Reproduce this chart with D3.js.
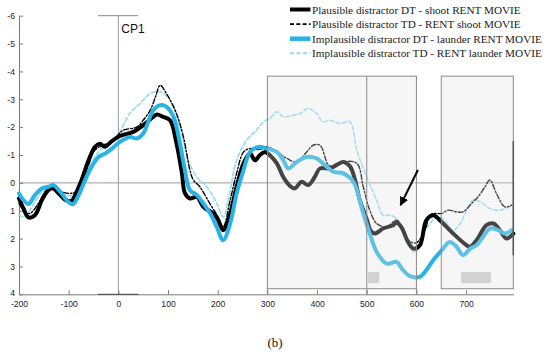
<!DOCTYPE html>
<html><head><meta charset="utf-8">
<script src="https://cdn.jsdelivr.net/npm/d3@7"></script>
<style>body{margin:0;background:#fff}svg{display:block}</style>
</head><body><svg id="c" width="550" height="356"></svg>
<script>
// ---------- data ----------
const xTicks = [-200, -100, 0, 100, 200, 300, 400, 500, 600, 700];
const yTicks = [-6, -5, -4, -3, -2, -1, 0, 1, 2, 3, 4];
const seriesNames = [
  "Plausible distractor DT - shoot RENT MOVIE",
  "Plausible distractor TD - RENT shoot MOVIE",
  "Implausible distractor DT - launder RENT MOVIE",
  "Implausible distractor TD - RENT launder MOVIE"
];
// [time (ms), amplitude (µV)]
const plausibleDT = [[-200,0.56],[-191,0.92],[-181,1.24],[-168,1.16],[-154,0.62],[-141,0.26],[-131,0.2],[-117,0.44],[-104,0.64],[-94,0.64],[-84,0.32],[-74,-0.1],[-60,-0.81],[-47,-1.29],[-37,-1.4],[-27,-1.3],[-13,-1.5],[3,-1.68],[15,-1.75],[30,-1.83],[50,-2.07],[70,-2.37],[78,-2.45],[90,-2.37],[104,-2.25],[117,-1.42],[128,-0.34],[134,0.37],[144,0.56],[158,0.5],[171,0.86],[191,1.1],[200,1.3],[211,1.7],[225,1.1],[238,0.14],[252,-0.7],[265,-1.05],[275,-0.81],[285,-1.0],[295,-1.11],[305,-0.99],[319,-0.7],[332,-0.21],[345,0.1],[355,0.2],[369,-0.04],[382,0.08],[395,-0.2],[406,-0.52],[426,-0.52],[440,-0.65],[453,-0.75],[466,-0.6],[475,-0.2],[486,0.62],[500,1.3],[508,1.72],[516,1.82],[533,1.64],[553,1.52],[560,1.42],[570,1.6],[583,2.12],[594,2.36],[607,2.24],[620,1.34],[634,1.16],[647,1.34],[674,1.82],[701,2.24],[708,2.3],[721,2.06],[741,1.52],[755,1.46],[768,1.7],[781,2.0],[795,1.82]];
const plausibleTD = [[-200,0.74],[-188,1.04],[-178,1.1],[-161,0.74],[-144,0.26],[-131,0.18],[-114,0.32],[-97,0.38],[-84,0.3],[-74,-0.04],[-60,-0.64],[-50,-1.11],[-33,-1.35],[-20,-1.42],[-7,-1.6],[10,-1.89],[37,-2.0],[50,-2.25],[64,-2.6],[75,-3.1],[84,-3.5],[97,-3.2],[117,-2.49],[131,-1.65],[144,-0.46],[151,-0.1],[164,0.14],[184,0.74],[200,1.2],[211,1.58],[225,0.62],[238,-0.34],[252,-1.11],[265,-1.23],[285,-1.2],[299,-1.3],[319,-1.11],[339,-0.88],[359,-0.75],[379,-1.11],[392,-1.35],[406,-1.35],[423,-0.64],[436,-0.57],[453,-0.75],[480,-0.7],[493,0.14],[506,0.98],[520,1.46],[540,1.58],[560,1.34],[573,1.7],[587,2.1],[600,2.15],[617,1.7],[627,1.16],[637,1.1],[651,1.1],[664,0.98],[681,1.04],[694,1.04],[711,0.74],[724,0.5],[738,0.14],[748,-0.1],[761,0.38],[778,0.86],[792,0.8]];
const implausibleDT = [[-200,0.38],[-191,0.62],[-181,0.76],[-168,0.44],[-154,0.2],[-141,0.14],[-131,0.08],[-117,0.32],[-101,0.68],[-91,0.76],[-80,0.44],[-67,-0.1],[-54,-0.57],[-40,-0.93],[-27,-1.05],[-13,-1.23],[3,-1.47],[23,-1.65],[37,-1.59],[50,-1.77],[70,-2.6],[84,-2.79],[97,-2.73],[111,-2.37],[124,-1.41],[134,-0.46],[144,0.26],[158,0.44],[171,0.74],[185,1.1],[198,1.58],[211,2.06],[225,1.46],[238,0.38],[252,-0.46],[265,-1.11],[282,-1.29],[299,-1.23],[319,-1.11],[332,-0.81],[342,-0.52],[359,-0.75],[379,-0.93],[399,-0.88],[412,-0.7],[433,-0.4],[453,-0.34],[473,-0.04],[493,1.1],[506,1.82],[520,2.48],[540,2.9],[560,2.84],[573,3.13],[587,3.35],[607,3.37],[620,3.13],[634,2.77],[651,2.42],[667,2.12],[681,2.3],[694,2.6],[708,2.36],[721,2.24],[734,1.94],[748,1.64],[765,1.7],[778,1.82],[792,1.7]];
const implausibleTD = [[-200,1.16],[-188,1.22],[-174,0.86],[-154,0.32],[-141,0.2],[-124,0.26],[-107,0.44],[-91,0.44],[-74,-0.1],[-60,-0.52],[-43,-1.05],[-30,-1.29],[-13,-1.47],[3,-1.83],[23,-2.49],[44,-2.85],[64,-3.2],[84,-3.27],[104,-2.97],[124,-2.0],[141,-0.81],[158,-0.21],[178,0.14],[198,0.74],[211,1.22],[225,0.26],[238,-0.81],[258,-1.53],[278,-1.89],[292,-2.19],[305,-2.31],[319,-2.55],[332,-2.37],[352,-2.43],[366,-2.49],[382,-2.67],[399,-2.49],[412,-2.19],[426,-2.25],[446,-2.13],[466,-2.19],[480,-1.17],[500,-0.21],[520,0.62],[533,1.16],[547,1.16],[560,1.28],[573,1.64],[587,2.3],[597,2.5],[614,1.82],[627,1.46],[641,1.22],[654,1.3],[674,1.7],[688,1.46],[701,0.98],[714,0.62],[728,0.68],[748,0.92],[768,0.98],[788,0.86]];
const analysisWindows = [[300, 600], [650, 795]];
const windowDividers = [500];
const sigBars = [[500, 525], [690, 750]];
const arrowFrom = [603, -0.46], arrowTo = [568, 0.8];
const xDomain = [-200, 795], yDomain = [-6, 4];

// ---------- drawing ----------
const svg = d3.select("#c");
const x = d3.scaleLinear().domain(xDomain).range([19, 513.3]);
const y = d3.scaleLinear().domain(yDomain).range([15.7, 294.3]);
const sansFont = "'Liberation Sans', Arial, sans-serif";
const serifFont = "'Liberation Serif', 'DejaVu Serif', serif";

// reference lines
svg.append("line").attr("x1", x(-200)).attr("x2", x(795)).attr("y1", y(0)).attr("y2", y(0))
  .attr("stroke", "#9a9a9a").attr("stroke-width", 1);
svg.append("line").attr("x1", x(0)).attr("x2", x(0)).attr("y1", y(-6)).attr("y2", y(4))
  .attr("stroke", "#9a9a9a").attr("stroke-width", 1);
svg.append("line").attr("x1", x(-41)).attr("x2", x(40)).attr("y1", y(-6)).attr("y2", y(-6))
  .attr("stroke", "#888").attr("stroke-width", 1);

// axes
const yAxis = d3.axisLeft(y).tickValues(yTicks).tickSize(-4).tickSizeOuter(0).tickPadding(4)
  .tickFormat(d => String(d));
const gy = svg.append("g").attr("transform", `translate(${x(-200)},0)`).call(yAxis);
const xAxis = d3.axisBottom(x).tickValues(xTicks).tickSize(-4).tickSizeOuter(0).tickPadding(6.5)
  .tickFormat(d => String(d));
const gx = svg.append("g").attr("transform", `translate(0,${y(4)})`).call(xAxis);
[gx, gy].forEach(g => {
  g.select(".domain").attr("stroke", "#7a7a7a");
  g.selectAll(".tick line").attr("stroke", "#7a7a7a");
  g.selectAll(".tick text").attr("font-family", sansFont).attr("font-size", 8.6).attr("fill", "#222");
});
gy.selectAll(".tick text").filter(d => d === 4).attr("dy", "0.1em");
svg.append("line").attr("x1", x(-41)).attr("x2", x(40)).attr("y1", y(4)).attr("y2", y(4))
  .attr("stroke", "#444").attr("stroke-width", 1);

// series
const line = d3.line().x(d => x(d[0])).y(d => y(d[1])).curve(d3.curveCatmullRom.alpha(0.5));
const series = [
  {data: implausibleTD, color: "#8edcf4", width: 1.6, dash: "4,2.5"},
  {data: plausibleDT, color: "#000", width: 4, dash: null},
  {data: plausibleTD, color: "#000", width: 1.4, dash: "5,2,1.5,2"},
  {data: implausibleDT, color: "#27b3e6", width: 4, dash: null}
];
series.forEach(s => {
  svg.append("path").attr("d", line(s.data)).attr("fill", "none")
    .attr("stroke", s.color).attr("stroke-width", s.width)
    .attr("stroke-linejoin", "round").attr("stroke-linecap", "round")
    .attr("stroke-dasharray", s.dash);
});

// analysis windows (drawn on top, translucent)
analysisWindows.forEach(w => {
  svg.append("rect").attr("x", x(w[0])).attr("y", y(-3.83))
    .attr("width", x(w[1]) - x(w[0])).attr("height", y(3.8) - y(-3.83))
    .attr("fill", "rgb(226,226,226)").attr("fill-opacity", 0.3)
    .attr("stroke", "#8a8a8a").attr("stroke-width", 1);
});
windowDividers.forEach(t => {
  svg.append("line").attr("x1", x(t)).attr("x2", x(t)).attr("y1", y(-3.83)).attr("y2", y(4))
    .attr("stroke", "#8a8a8a").attr("stroke-width", 1);
});
[300, 600].forEach(t => {
  svg.append("line").attr("x1", x(t)).attr("x2", x(t)).attr("y1", y(3.8)).attr("y2", y(4))
    .attr("stroke", "#8a8a8a").attr("stroke-width", 1);
});
svg.append("line").attr("x1", x(795)).attr("x2", x(795)).attr("y1", y(-1.5)).attr("y2", y(2.6))
  .attr("stroke", "#555").attr("stroke-width", 1.5);
sigBars.forEach(b => {
  svg.append("rect").attr("x", x(b[0])).attr("y", y(3.2))
    .attr("width", x(b[1]) - x(b[0])).attr("height", y(3.6) - y(3.2))
    .attr("fill", "#d2d2d2");
});

// arrow
svg.append("defs").append("marker").attr("id", "ah").attr("viewBox", "0 0 10 10")
  .attr("refX", 9).attr("refY", 5).attr("markerWidth", 4.5).attr("markerHeight", 4.5)
  .attr("orient", "auto").append("path").attr("d", "M0,0L10,5L0,10z").attr("fill", "#000");
svg.append("line").attr("x1", x(arrowFrom[0])).attr("y1", y(arrowFrom[1]))
  .attr("x2", x(arrowTo[0])).attr("y2", y(arrowTo[1]))
  .attr("stroke", "#000").attr("stroke-width", 2).attr("marker-end", "url(#ah)");

// CP1 label
svg.append("text").attr("x", x(0) + 3).attr("y", 33).text("CP1")
  .attr("font-family", sansFont).attr("font-size", 12).attr("fill", "#111");

// legend
const legendStyles = [
  {color: "#000", width: 4, dash: null},
  {color: "#000", width: 1.8, dash: "4,2.3"},
  {color: "#27b3e6", width: 4.5, dash: null},
  {color: "#8edcf4", width: 2, dash: "4,2.5"}
];
const legendWidths = [209, 209, 230, 230];
seriesNames.forEach((name, i) => {
  const cy = 9.5 + i * 14.6;
  const st = legendStyles[i];
  svg.append("line").attr("x1", 290).attr("x2", 310.5).attr("y1", cy).attr("y2", cy)
    .attr("stroke", st.color).attr("stroke-width", st.width).attr("stroke-dasharray", st.dash);
  const t = svg.append("text").attr("x", 312).attr("y", cy + 4).text(name)
    .attr("font-family", serifFont).attr("font-size", 12.5).attr("fill", "#1a1a1a");
  const natural = t.node().getComputedTextLength();
  if (natural > 0) t.attr("font-size", Math.min(13.5, 12.5 * legendWidths[i] / natural));
});

// caption
svg.append("text").attr("x", 275).attr("y", 347).attr("text-anchor", "middle").text("(b)")
  .attr("font-family", serifFont).attr("font-size", 13).attr("fill", "#111");
</script></body></html>
